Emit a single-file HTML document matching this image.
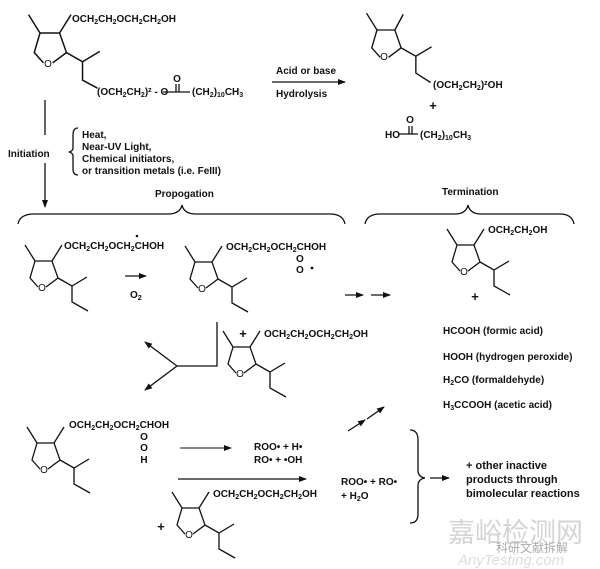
<!DOCTYPE html>
<html><head><meta charset="utf-8"><style>
html,body{margin:0;padding:0;background:#fff;}
svg{display:block;}
text{font-family:"Liberation Sans","Noto Sans CJK SC",sans-serif;font-weight:bold;font-size:10px;fill:#111;}
.s{font-size:7px;}
.p{font-size:13px;}
.b{font-size:11px;}
</style></head><body>
<svg width="600" height="569" viewBox="0 0 600 569" xmlns="http://www.w3.org/2000/svg">
<defs>
<marker id="ah" markerWidth="8" markerHeight="8" refX="7" refY="4" orient="auto" markerUnits="userSpaceOnUse">
<path d="M0,1 L8,4 L0,7 Z" fill="#111"/></marker>
</defs>
<g stroke="#111" stroke-width="1.3" fill="none">
<g transform="translate(40,33) scale(1.15)"><path d="M-10,-16 L0,0 L17,0 L23,17 L11,26 M3,26 L-5,17 L0,0 M17,0 L27,-16 M23,17 L37,25 L52,16 M37,25 L37,41 L50,48"/></g>
<g transform="translate(377,30) scale(1.05)"><path d="M-10,-16 L0,0 L17,0 L23,17 L11,26 M3,26 L-5,17 L0,0 M17,0 L25,-15 M23,17 L37,25 L52,16 M37,25 L37,41 L51,50"/></g>
<g transform="translate(35,261)"><path d="M-10,-16 L0,0 L17,0 L23,17 L11,26 M3,26 L-5,17 L0,0 M17,0 L27,-16 M23,17 L37,25 L52,16 M37,25 L37,41 L53,50"/></g>
<g transform="translate(195,262)"><path d="M-10,-16 L0,0 L17,0 L23,17 L11,26 M3,26 L-5,17 L0,0 M17,0 L27,-16 M23,17 L37,25 L52,16 M37,25 L37,41 L53,50"/></g>
<g transform="translate(457,245)"><path d="M-10,-16 L0,0 L17,0 L23,17 L11,26 M3,26 L-5,17 L0,0 M17,0 L27,-16 M23,17 L37,25 L52,16 M37,25 L37,41 L53,50"/></g>
<g transform="translate(233,347)"><path d="M-10,-16 L0,0 L17,0 L23,17 L11,26 M3,26 L-5,17 L0,0 M17,0 L27,-16 M23,17 L37,25 L52,16 M37,25 L37,41 L53,50"/></g>
<g transform="translate(37,443)"><path d="M-10,-16 L0,0 L17,0 L23,17 L11,26 M3,26 L-5,17 L0,0 M17,0 L27,-16 M23,17 L37,25 L52,16 M37,25 L37,41 L53,50"/></g>
<g transform="translate(182,508)"><path d="M-10,-16 L0,0 L17,0 L23,17 L11,26 M3,26 L-5,17 L0,0 M17,0 L27,-16 M23,17 L37,25 L52,16 M37,25 L37,41 L53,50"/></g>

<path d="M163,92 L190,92 M176,84 L176,92 M179,84 L179,92"/>
<path d="M399,134 L418,134 M409,126 L409,134 M412,126 L412,134"/>

<path d="M272,82 L345,82" marker-end="url(#ah)"/>
<path d="M45,100 L45,135"/>
<path d="M45,163 L45,207" marker-end="url(#ah)"/>
<path d="M78,128 Q73,128 73,135 L73,148 Q73,151 69,152 Q73,153 73,156 L73,169 Q73,175 78,175"/>
<path d="M125,276 L146,276" marker-end="url(#ah)"/>
<path d="M345,295 L363,295" marker-end="url(#ah)"/>
<path d="M371,295 L390,295" marker-end="url(#ah)"/>
<path d="M217,322 L217,366 L177,366"/>
<path d="M177,366 L145,342" marker-end="url(#ah)"/>
<path d="M177,366 L145,390" marker-end="url(#ah)"/>
<path d="M180,448 L231,448" stroke-width="1" marker-end="url(#ah)"/>
<path d="M178,479 L306,479" marker-end="url(#ah)"/>
<path d="M348,431 L365,420" marker-end="url(#ah)"/>
<path d="M367,419 L384,407" marker-end="url(#ah)"/>
<path d="M430,478 L449,478" marker-end="url(#ah)"/>
<path d="M18,224 Q20,214 34,214 L168,214 Q180,214 182,205 Q184,214 196,214 L330,214 Q343,214 345,224"/>
<path d="M365,224 Q367,214 380,214 L455,214 Q466,214 468,205 Q470,214 481,214 L560,214 Q572,214 574,224"/>
<path d="M410,430 Q418,430 418,440 L418,470 Q418,477 425,478 Q418,479 418,486 L418,514 Q418,523 410,523"/>
</g>

<text x="72" y="22">OCH<tspan class="s" dy="2">2</tspan><tspan dy="-2">CH</tspan><tspan class="s" dy="2">2</tspan><tspan dy="-2">OCH</tspan><tspan class="s" dy="2">2</tspan><tspan dy="-2">CH</tspan><tspan class="s" dy="2">2</tspan><tspan dy="-2">OH</tspan></text>
<text x="48" y="67" text-anchor="middle" style="font-weight:normal">O</text>
<text x="97" y="95">(OCH<tspan class="s" dy="2">2</tspan><tspan dy="-2">CH</tspan><tspan class="s" dy="2">2</tspan><tspan dy="-2">)</tspan><tspan class="s" dy="-3">z</tspan><tspan dy="3"> - O</tspan></text>
<text x="177" y="82" text-anchor="middle">O</text>
<text x="192" y="95">(CH<tspan class="s" dy="2">2</tspan><tspan dy="-2">)</tspan><tspan class="s" dy="2">10</tspan><tspan dy="-2">CH</tspan><tspan class="s" dy="2">3</tspan></text>
<text x="276" y="74">Acid or base</text>
<text x="276" y="97">Hydrolysis</text>
<text x="384" y="60" text-anchor="middle" style="font-weight:normal">O</text>
<text x="433" y="88">(OCH<tspan class="s" dy="2">2</tspan><tspan dy="-2">CH</tspan><tspan class="s" dy="2">2</tspan><tspan dy="-2">)</tspan><tspan class="s" dy="-3">z</tspan><tspan dy="3">OH</tspan></text>
<text x="433" y="110" class="p" text-anchor="middle">+</text>
<text x="385" y="138">HO</text>
<text x="410" y="123" text-anchor="middle">O</text>
<text x="420" y="138">(CH<tspan class="s" dy="2">2</tspan><tspan dy="-2">)</tspan><tspan class="s" dy="2">10</tspan><tspan dy="-2">CH</tspan><tspan class="s" dy="2">3</tspan></text>

<text x="8" y="157">Initiation</text>
<text x="82" y="138">Heat,</text>
<text x="82" y="150">Near-UV Light,</text>
<text x="82" y="162">Chemical initiators,</text>
<text x="82" y="174"> or transition metals (i.e. FeIII)</text>
<text x="155" y="197">Propogation</text>
<text x="442" y="195">Termination</text>

<text x="64" y="249">OCH<tspan class="s" dy="2">2</tspan><tspan dy="-2">CH</tspan><tspan class="s" dy="2">2</tspan><tspan dy="-2">OCH</tspan><tspan class="s" dy="2">2</tspan><tspan dy="-2">CHOH</tspan></text>
<circle cx="137" cy="236" r="1.3" fill="#111"/>
<text x="42" y="291" text-anchor="middle" style="font-weight:normal">O</text>
<text x="130" y="298">O<tspan class="s" dy="2">2</tspan></text>

<text x="226" y="250">OCH<tspan class="s" dy="2">2</tspan><tspan dy="-2">CH</tspan><tspan class="s" dy="2">2</tspan><tspan dy="-2">OCH</tspan><tspan class="s" dy="2">2</tspan><tspan dy="-2">CHOH</tspan></text>
<text x="296" y="262">O</text>
<text x="296" y="273">O</text>
<circle cx="312" cy="268" r="1.4" fill="#111"/>
<text x="202" y="292" text-anchor="middle" style="font-weight:normal">O</text>

<text x="488" y="233">OCH<tspan class="s" dy="2">2</tspan><tspan dy="-2">CH</tspan><tspan class="s" dy="2">2</tspan><tspan dy="-2">OH</tspan></text>
<text x="464" y="275" text-anchor="middle" style="font-weight:normal">O</text>
<text x="475" y="301" class="p" text-anchor="middle">+</text>
<text x="443" y="334">HCOOH (formic acid)</text>
<text x="443" y="360">HOOH (hydrogen peroxide)</text>
<text x="443" y="383">H<tspan class="s" dy="2">2</tspan><tspan dy="-2">CO (formaldehyde)</tspan></text>
<text x="443" y="408">H<tspan class="s" dy="2">3</tspan><tspan dy="-2">CCOOH (acetic acid)</tspan></text>

<text x="243" y="338" class="p" text-anchor="middle">+</text>
<text x="264" y="337">OCH<tspan class="s" dy="2">2</tspan><tspan dy="-2">CH</tspan><tspan class="s" dy="2">2</tspan><tspan dy="-2">OCH</tspan><tspan class="s" dy="2">2</tspan><tspan dy="-2">CH</tspan><tspan class="s" dy="2">2</tspan><tspan dy="-2">OH</tspan></text>
<text x="240" y="377" text-anchor="middle" style="font-weight:normal">O</text>

<text x="69" y="428">OCH<tspan class="s" dy="2">2</tspan><tspan dy="-2">CH</tspan><tspan class="s" dy="2">2</tspan><tspan dy="-2">OCH</tspan><tspan class="s" dy="2">2</tspan><tspan dy="-2">CHOH</tspan></text>
<text x="144" y="440" text-anchor="middle">O</text>
<text x="144" y="451" text-anchor="middle">O</text>
<text x="144" y="463" text-anchor="middle">H</text>
<text x="44" y="473" text-anchor="middle" style="font-weight:normal">O</text>
<text x="254" y="450">ROO• + H•</text>
<text x="254" y="463">RO• + •OH</text>

<text x="161" y="531" class="p" text-anchor="middle">+</text>
<text x="213" y="497">OCH<tspan class="s" dy="2">2</tspan><tspan dy="-2">CH</tspan><tspan class="s" dy="2">2</tspan><tspan dy="-2">OCH</tspan><tspan class="s" dy="2">2</tspan><tspan dy="-2">CH</tspan><tspan class="s" dy="2">2</tspan><tspan dy="-2">OH</tspan></text>
<text x="189" y="538" text-anchor="middle" style="font-weight:normal">O</text>

<text x="341" y="485">ROO• + RO•</text>
<text x="341" y="499">+ H<tspan class="s" dy="2">2</tspan><tspan dy="-2">O</tspan></text>

<text x="466" y="469" class="b">+ other inactive</text>
<text x="466" y="483" class="b">products through</text>
<text x="466" y="497" class="b">bimolecular reactions</text>

<text x="448" y="542" style="font-size:27px;fill:#d4d4d4;font-weight:normal">嘉峪检测网</text>
<text x="496" y="552" style="font-size:12px;fill:#aaa;font-weight:normal">科研文献拆解</text>
<text x="458" y="565" style="font-size:15px;fill:#ddd;font-style:italic;font-weight:normal">AnyTesting.com</text>
</svg>
</body></html>
